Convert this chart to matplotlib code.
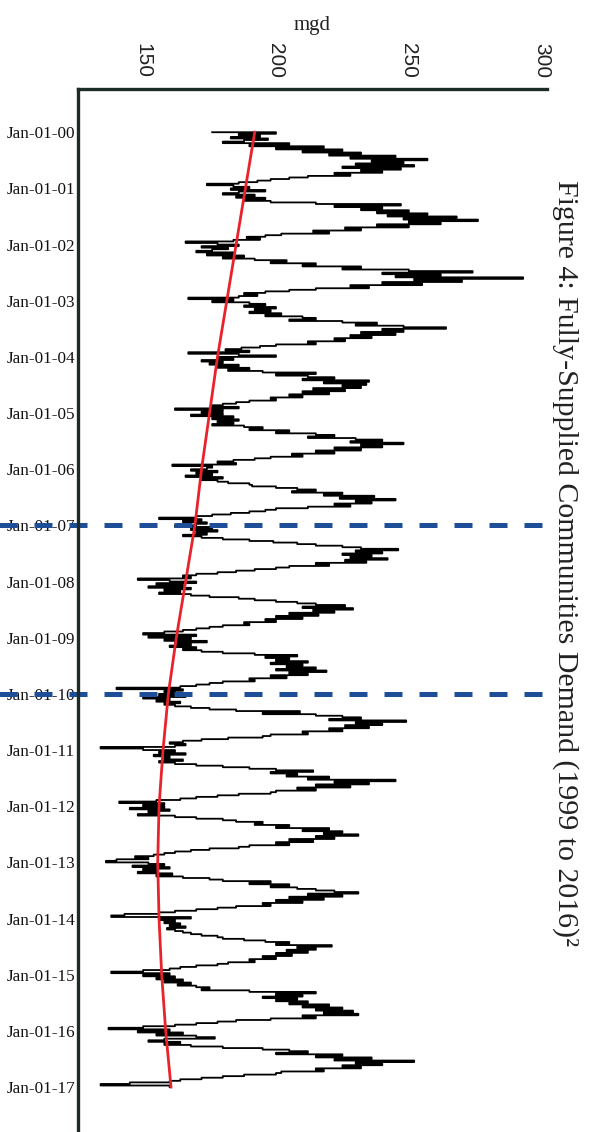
import numpy as np
import matplotlib.pyplot as plt

# daily demand sampled every ~10 days (36 per year), Jan 2000 -> Jan 2017
demand = [
    176, 200, 186, 194, 183, 197, 188, 180, 205, 190, 218, 200, 225, 210, 232, 220, 245, 228,
    257, 236, 248, 230, 252, 225, 247, 232, 240, 222, 228, 212, 205, 198, 193, 186, 174, 184,
    190, 183, 196, 186, 180, 192, 185, 196, 188, 198, 215, 247, 222, 240, 232, 250, 238, 257,
    242, 268, 248, 276, 250, 262, 238, 250, 226, 232, 214, 220, 202, 196, 189, 194, 184, 166,
    178, 186, 172, 182, 176, 170, 184, 174, 188, 180, 192, 204, 198, 215, 210, 232, 225, 250,
    274, 240, 262, 245, 293, 252, 270, 240, 255, 228, 235, 215, 205, 196, 188, 193, 186, 167,
    184, 176, 190, 196, 188, 200, 192, 198, 190, 202, 196, 210, 215, 205, 225, 238, 230, 248,
    264, 240, 248, 232, 245, 228, 236, 222, 226, 212, 215, 200, 194, 187, 181, 190, 167, 186,
    200, 178, 184, 172, 180, 175, 186, 178, 190, 182, 195, 215, 200, 212, 222, 210, 235, 218,
    234, 225, 232, 214, 226, 210, 220, 205, 210, 198, 200, 190, 185, 180, 176, 186, 162, 180,
    172, 180, 168, 184, 176, 186, 178, 184, 176, 188, 195, 190, 205, 200, 215, 222, 212, 230,
    240, 228, 248, 232, 240, 222, 232, 215, 222, 206, 210, 198, 192, 184, 178, 185, 161, 176,
    174, 168, 178, 170, 176, 166, 180, 172, 178, 182, 190, 191, 200, 208, 215, 206, 225, 218,
    237, 224, 245, 230, 236, 222, 228, 212, 200, 196, 190, 183, 176, 170, 156, 172, 165, 174,
    170, 162, 176, 168, 178, 170, 174, 165, 172, 180, 190, 199, 208, 215, 225, 232, 246, 230,
    240, 225, 236, 228, 242, 226, 234, 215, 220, 205, 200, 192, 185, 178, 170, 165, 168, 148,
    160, 170, 155, 165, 152, 168, 158, 164, 156, 168, 175, 186, 192, 200, 208, 215, 226, 210,
    229, 214, 222, 205, 216, 200, 210, 196, 200, 188, 190, 180, 175, 170, 165, 158, 150, 170,
    152, 168, 158, 174, 162, 168, 160, 170, 165, 172, 180, 192, 208, 196, 205, 200, 212, 198,
    210, 204, 215, 200, 219, 205, 212, 198, 204, 190, 192, 180, 175, 170, 164, 140, 165, 158,
    162, 156, 166, 150, 160, 155, 164, 158, 162, 168, 175, 185, 209, 195, 215, 225, 232, 220,
    249, 230, 240, 226, 235, 220, 225, 210, 212, 198, 195, 182, 172, 165, 160, 166, 162, 134,
    150, 162, 156, 166, 154, 160, 158, 165, 156, 162, 170, 180, 190, 200, 214, 198, 208, 204,
    220, 212, 245, 222, 235, 215, 228, 208, 215, 200, 198, 186, 178, 170, 164, 155, 141, 158,
    150, 158, 145, 160, 152, 156, 148, 162, 170, 180, 185, 195, 192, 205, 200, 220, 210, 225,
    218, 231, 215, 222, 205, 214, 200, 205, 190, 186, 175, 168, 162, 158, 154, 147, 152, 140,
    136, 152, 158, 146, 160, 150, 155, 148, 161, 155, 165, 175, 180, 198, 190, 205, 198, 208,
    215, 222, 231, 212, 225, 205, 218, 200, 210, 195, 198, 185, 178, 170, 162, 156, 143, 138,
    168, 156, 162, 158, 164, 160, 166, 159, 162, 165, 168, 172, 178, 180, 188, 196, 205, 200,
    221, 208, 215, 204, 212, 200, 206, 195, 200, 190, 192, 182, 178, 170, 164, 160, 150, 138,
    160, 150, 162, 155, 165, 158, 168, 163, 170, 175, 172, 190, 215, 200, 210, 195, 208, 200,
    212, 205, 220, 210, 225, 215, 229, 218, 231, 210, 215, 198, 185, 178, 170, 162, 150, 137,
    160, 148, 165, 155, 170, 177, 158, 152, 164, 158, 168, 180, 195, 205, 212, 200, 225, 215,
    236, 222, 252, 230, 240, 225, 232, 215, 218, 202, 200, 188, 180, 172, 164, 160, 145, 134,
    160,
]
per_year = 36
start_year = 2000

trend_years = list(range(2000, 2018))
trend_mgd = [192, 188.5, 185, 181.5, 178, 175, 172, 169.5, 166, 162.5,
             159.5, 157.5, 156, 155.5, 156, 157, 158.5, 160.5]

marker_years = [2007, 2010]
year_labels = ['Jan-01-%02d' % (y % 100) for y in range(2000, 2018)]
mgd_ticks = [150, 200, 250, 300]

t = start_year + np.arange(len(demand)) / per_year

fig = plt.figure(figsize=(5.93, 11.32), dpi=100)
ax = fig.add_axes([0.1315, 0.0, 0.791, 0.9214])

# time runs down the page, so steps give the horizontal day-to-day strokes
ax.plot(demand, t, color='black', lw=1.3, drawstyle='steps-post')
ax.plot(trend_mgd, trend_years, color='#e8232b', lw=2.0)

xmin, xmax = 125.5, 302
ax.set_xlim(xmin, xmax)
ax.set_ylim(2017.8, 1999.23)

for yr in marker_years:
    ax.axhline(yr, xmin=-0.168, xmax=(300 - xmin) / (xmax - xmin), clip_on=False,
               color='#1f4e98', lw=3.6, dashes=(3.6, 3.4))

for side in ['right', 'bottom']:
    ax.spines[side].set_visible(False)
for side in ['top', 'left']:
    ax.spines[side].set_linewidth(2.4)
    ax.spines[side].set_color('#1c2b24')

ax.xaxis.tick_top()
ax.xaxis.set_label_position('top')
ax.set_xticks(mgd_ticks)
ax.set_xticklabels([str(v) for v in mgd_ticks], rotation=270, fontsize=15,
                   family='Liberation Sans', color='#222222')
ax.set_yticks(trend_years)
ax.set_yticklabels(year_labels, fontsize=12.3, family='Liberation Serif', color='#111111')
ax.tick_params(axis='x', length=0, pad=8)
ax.tick_params(axis='y', length=0, pad=2)
ax.set_xlabel('mgd', fontsize=15, family='Liberation Serif', labelpad=9, color='#222222')

fig.text(0.953, 0.503, 'Figure 4: Fully-Supplied Communities Demand (1999 to 2016)²',
         rotation=270, ha='center', va='center', fontsize=21.5,
         family='Liberation Serif', color='#222222')

fig.savefig('out.png', dpi=100)
